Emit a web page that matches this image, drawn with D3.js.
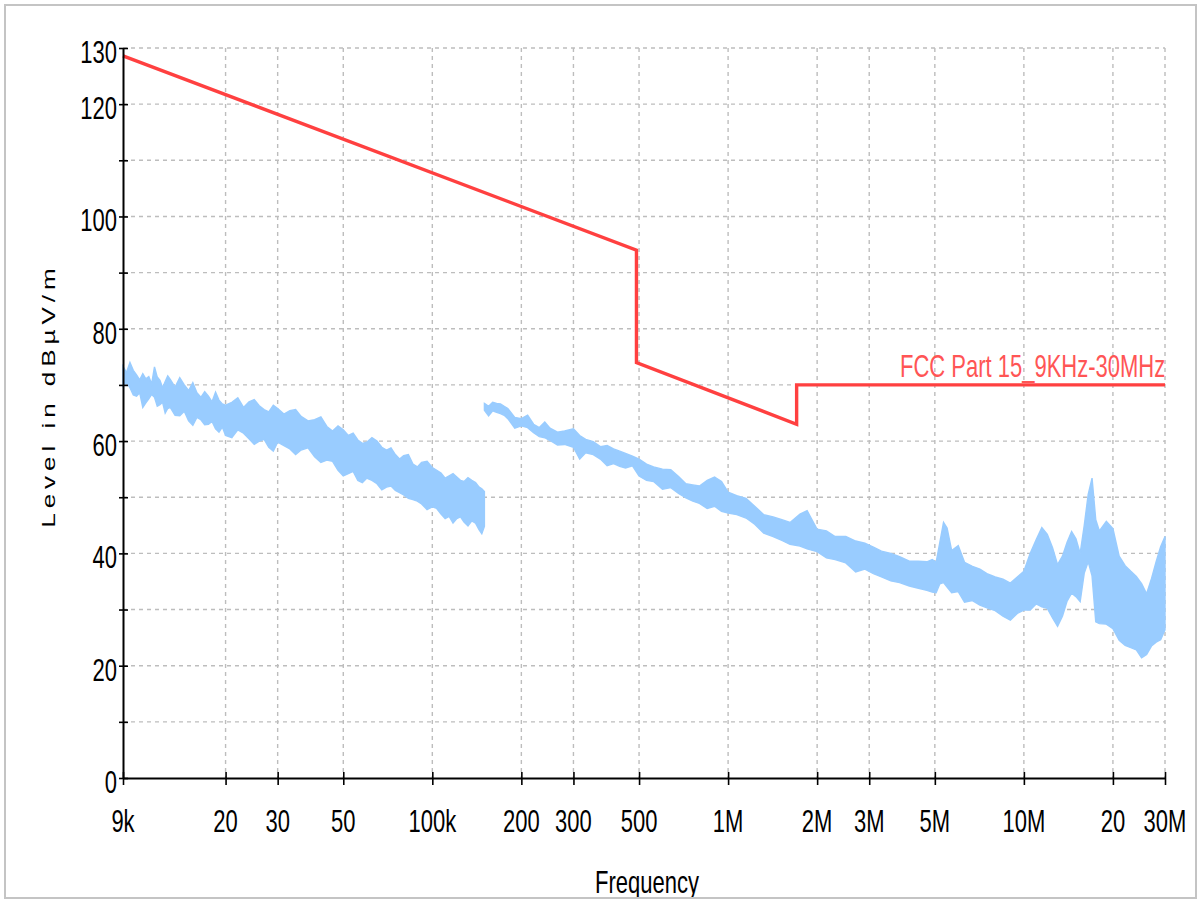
<!DOCTYPE html>
<html>
<head>
<meta charset="utf-8">
<script src="https://cdn.jsdelivr.net/npm/d3@7"></script>
<style>
  html, body { margin: 0; padding: 0; background: #fff; }
  svg { display: block; }
  text { font-family: "Liberation Sans", Arial, sans-serif; }
</style>
</head>
<body>
<svg id="chart" width="1200" height="901"></svg>
<script>
// ---------- DATA (frequencies in kHz, levels in dBµV/m) ----------
const xTickValues = [9, 20, 30, 50, 100, 200, 300, 500, 1000, 2000, 3000, 5000, 10000, 20000, 30000];
const xTickLabels = ["9k", "20", "30", "50", "100k", "200", "300", "500", "1M", "2M", "3M", "5M", "10M", "20", "30M"];
const yTickValues = [0, 10, 20, 30, 40, 50, 60, 70, 80, 90, 100, 110, 120, 130];
const yLabelValues = [0, 20, 40, 60, 80, 100, 120, 130];

const limitFreq  = [9, 490, 490, 1705, 1705, 30000];
const limitLevel = [128.6, 94.0, 74.0, 63.0, 70.0, 70.0];
const limitName  = "FCC Part 15_9KHz-30MHz";

// Scan 1: 9 kHz – 150 kHz (upper / lower envelope of the trace)
const scan1Freq = [9, 9.25, 9.5, 9.75, 10, 10.25, 10.5, 10.75, 11, 11.25, 11.5, 11.75, 12, 12.25, 12.5, 12.75, 13,
  13.5, 14, 14.5, 15, 15.5, 16, 16.5, 17, 17.5, 18, 18.5, 19, 19.5, 20,
  21, 22, 23, 24, 25, 26, 27, 28, 29, 30,
  31.5, 33, 34.5, 36, 38, 40, 42, 44, 46, 48, 50, 52, 54, 56, 58, 60,
  62.5, 65, 67.5, 70, 72.5, 75, 77.5, 80,
  83, 86, 89, 92, 96, 100,
  103.5, 107, 110.5, 114, 117.5, 121, 124.5, 128,
  132, 136, 140, 144, 147, 150];
const scan1Hi = [73.3, 72.2, 74.0, 72.6, 71.8, 70.9, 72.0, 71.1, 71.5, 70.2, 73.2, 71.4, 70.8, 69.5, 70.6, 71.6, 71.0,
  69.6, 71.3, 70.0, 69.0, 70.4, 68.6, 67.8, 68.8, 68.0, 67.0, 68.7, 67.3, 66.6, 66.4,
  66.9, 67.7, 66.0, 67.0, 67.4, 66.3, 65.6, 65.2, 66.4, 65.8,
  64.8, 65.4, 65.6, 64.4, 63.6, 63.8, 64.3, 62.6, 61.8, 62.7, 62.0, 61.0, 61.4, 60.2, 59.6, 59.8,
  60.6, 60.0, 58.9, 58.4, 58.8, 57.6, 56.8, 57.4,
  57.6, 55.9, 55.4, 56.2, 56.4, 55.3,
  54.8, 54.3, 53.4, 53.8, 54.2, 53.6, 53.0, 52.8,
  53.5, 53.0, 52.6, 51.8, 51.5, 51.0];
const scan1Lo = [69.8, 70.4, 69.5, 68.2, 68.0, 68.6, 66.0, 66.8, 67.5, 68.3, 67.8, 66.2, 66.5, 66.9, 65.0, 65.8, 66.0,
  64.6, 64.5, 65.3, 63.6, 62.8, 64.2, 63.8, 62.9, 63.0, 63.5, 62.2, 61.6, 62.5, 61.0,
  60.6, 62.0, 61.4, 60.4, 59.4, 60.0, 60.3, 58.9, 58.2, 59.8,
  59.2, 58.6, 57.6, 58.4, 58.8, 57.2, 56.2, 56.6, 56.4, 54.8, 53.8, 54.2, 54.6, 53.0, 52.6, 53.4,
  53.0, 52.4, 51.3, 51.8, 52.0, 51.2, 50.8, 50.4,
  49.8, 49.6, 49.3, 48.8, 47.8, 48.3,
  48.0, 47.0, 46.2, 46.6, 45.4, 46.2, 46.5, 45.6,
  44.9, 45.8, 45.4, 44.2, 43.5, 44.8];

// Scan 2: 150 kHz – 30 MHz (upper / lower envelope of the trace)
const scan2Freq = [150, 155, 160, 165, 170, 175, 180, 190, 200, 210, 220, 230, 240, 250, 265, 280, 300, 315, 330, 350, 370, 390, 410, 430, 450, 475, 500, 530, 560, 600, 640, 680, 720, 760, 800, 850, 900, 950, 1000, 1070, 1150, 1230, 1320, 1420, 1520, 1620, 1750, 1850, 2000, 2150, 2300, 2500, 2700, 2900, 3100, 3300, 3550, 3800, 4100, 4400, 4700, 4900, 5050, 5200, 5350, 5500, 5700, 6000, 6300, 6700, 7100, 7500, 8000, 8500, 9000, 9500, 10000, 10500, 11000, 11500, 12000, 12500, 13000, 13500, 14000, 14500, 15000, 15500, 16000, 16500, 17000, 17500, 18000, 19000, 20000, 21000, 22000, 23000, 24000, 25000, 26000, 27000, 28000, 29000, 30000];
const scan2Hi   = [66.7, 66.2, 66.9, 66.7, 66.6, 66.2, 65.8, 64.2, 64.0, 64.6, 63.0, 62.4, 63.4, 62.3, 61.6, 61.8, 62.2, 61.0, 60.3, 59.9, 59.0, 59.2, 58.6, 58.2, 57.8, 57.3, 56.8, 55.9, 55.4, 55.0, 54.9, 53.7, 52.4, 52.2, 52.0, 53.0, 53.6, 52.8, 50.9, 50.3, 49.8, 48.4, 46.9, 46.5, 46.0, 45.5, 47.0, 47.6, 44.3, 44.0, 43.0, 43.0, 42.2, 41.8, 41.1, 40.4, 40.0, 39.4, 38.6, 38.6, 38.5, 38.9, 38.4, 42.0, 45.5, 44.5, 40.5, 41.4, 38.4, 37.7, 37.2, 36.4, 35.8, 35.4, 34.7, 35.8, 36.8, 40.0, 42.4, 44.6, 43.4, 41.0, 38.0, 39.5, 42.0, 43.9, 42.6, 40.0, 45.0, 50.5, 53.4, 46.0, 44.0, 45.7, 44.4, 39.5, 37.8, 36.8, 35.9, 34.6, 32.8, 35.5, 38.5, 41.2, 43.0];
const scan2Lo   = [65.5, 64.5, 65.4, 65.1, 64.9, 64.6, 64.0, 62.3, 62.7, 62.4, 61.5, 60.8, 60.6, 60.1, 59.3, 59.4, 58.9, 56.8, 57.9, 57.6, 56.8, 55.6, 56.0, 55.5, 55.2, 55.6, 53.8, 53.0, 52.8, 51.4, 51.7, 50.7, 49.9, 49.3, 48.9, 48.0, 48.4, 47.5, 47.2, 46.9, 46.3, 45.2, 43.6, 43.0, 42.3, 41.6, 41.3, 40.8, 40.3, 39.2, 38.9, 38.3, 36.7, 37.2, 36.4, 35.8, 35.1, 34.8, 34.2, 33.8, 33.4, 33.1, 33.0, 34.6, 34.8, 34.0, 33.0, 33.2, 31.3, 31.6, 30.8, 30.3, 29.8, 28.8, 28.1, 29.3, 29.9, 29.9, 31.0, 30.5, 30.2, 28.5, 27.0, 28.8, 31.5, 32.9, 32.3, 31.4, 36.5, 38.5, 36.0, 27.8, 27.5, 27.4, 26.6, 24.5, 23.6, 23.2, 22.8, 21.4, 22.0, 23.5, 24.2, 24.6, 26.4];

// ---------- CHART ----------
const svg = d3.select("#chart");
const VS = 1.45; // vertical stretch of the text glyphs

const x = d3.scaleLog().domain([9, 30000]).range([123, 1165]);
const y = d3.scaleLinear().domain([0, 130]).range([778, 48]);

svg.append("rect").attr("x", 0).attr("y", 0).attr("width", 1200).attr("height", 901).attr("fill", "#fff");

// grid
const grid = svg.append("g").attr("stroke", "#bdbdbd").attr("stroke-width", 1.4).attr("stroke-dasharray", "4,4").attr("fill", "none");
grid.selectAll("line.h").data(yTickValues.filter(v => v > 0)).join("line")
  .attr("x1", x(9)).attr("x2", x(30000)).attr("y1", d => y(d)).attr("y2", d => y(d));
grid.selectAll("line.v").data(xTickValues.filter(v => v > 9)).join("line")
  .attr("x1", d => x(d)).attr("x2", d => x(d)).attr("y1", y(130)).attr("y2", y(0));

// trace bands
const band = d3.area().x(d => x(d.f)).y0(d => y(d.lo)).y1(d => y(d.hi)).curve(d3.curveLinear);
const scan1 = scan1Freq.map((f, i) => ({ f, hi: scan1Hi[i], lo: scan1Lo[i] }));
const scan2 = scan2Freq.map((f, i) => ({ f, hi: scan2Hi[i], lo: scan2Lo[i] }));
[scan1, scan2].forEach(s => {
  svg.append("path").datum(s).attr("d", band)
    .attr("fill", "#99ccff").attr("stroke", "#99ccff").attr("stroke-width", 1.4).attr("stroke-linejoin", "miter");
});

// limit line
const limit = limitFreq.map((f, i) => ({ f, v: limitLevel[i] }));
svg.append("path").datum(limit)
  .attr("d", d3.line().x(d => x(d.f)).y(d => y(d.v)))
  .attr("fill", "none").attr("stroke", "#ff4040").attr("stroke-width", 3.4);

// limit label
svg.append("g").attr("transform", `translate(900,377) scale(1,${VS})`)
  .append("text").attr("x", 0).attr("y", 0)
  .attr("fill", "#ff5555").attr("font-size", 22)
  .text(limitName);

// axes
const xAxis = d3.axisBottom(x).tickValues(xTickValues).tickFormat("").tickSizeInner(7).tickSizeOuter(0);
const gx = svg.append("g").attr("transform", `translate(0,${y(0)})`).call(xAxis);
gx.selectAll(".tick line").attr("y1", -6).attr("stroke", "#000").attr("stroke-width", 1.6);
gx.select(".domain").attr("stroke", "#000").attr("stroke-width", 2);

const yAxis = d3.axisLeft(y).tickValues(yTickValues).tickFormat("").tickSizeInner(4).tickSizeOuter(0);
const gy = svg.append("g").attr("transform", `translate(${x(9)},0)`).call(yAxis);
gy.selectAll(".tick line").attr("x1", 5).attr("stroke", "#000").attr("stroke-width", 1.6);
gy.select(".domain").attr("stroke", "#000").attr("stroke-width", 2);

// tick labels
svg.append("g").selectAll("g").data(xTickValues).join("g")
  .attr("transform", d => `translate(${x(d)},832) scale(1,${VS})`)
  .append("text").attr("text-anchor", "middle").attr("font-size", 22).attr("fill", "#000")
  .text((d, i) => xTickLabels[i]);

svg.append("g").selectAll("g").data(yLabelValues).join("g")
  .attr("transform", d => `translate(117,${y(d) + 15}) scale(1,${VS})`)
  .append("text").attr("text-anchor", "end").attr("font-size", 22).attr("fill", "#000")
  .text(d => d);

// axis titles
svg.append("g").attr("transform", `translate(55,398) rotate(-90) scale(${VS},1)`)
  .append("text").attr("text-anchor", "middle").attr("font-size", 18).attr("fill", "#000")
  .attr("textLength", 179).attr("lengthAdjust", "spacing")
  .text("Level in dBµV/m");

svg.append("g").attr("transform", `translate(647,893) scale(1,${VS})`)
  .append("text").attr("text-anchor", "middle").attr("font-size", 22).attr("fill", "#000")
  .text("Frequency");

// clip bottom & outer frame
svg.append("rect").attr("x", 0).attr("y", 897).attr("width", 1200).attr("height", 4).attr("fill", "#fff");
svg.append("rect").attr("x", 5).attr("y", 5).attr("width", 1191).attr("height", 893)
  .attr("fill", "none").attr("stroke", "#c4c4c4").attr("stroke-width", 2);
</script>
</body>
</html>
